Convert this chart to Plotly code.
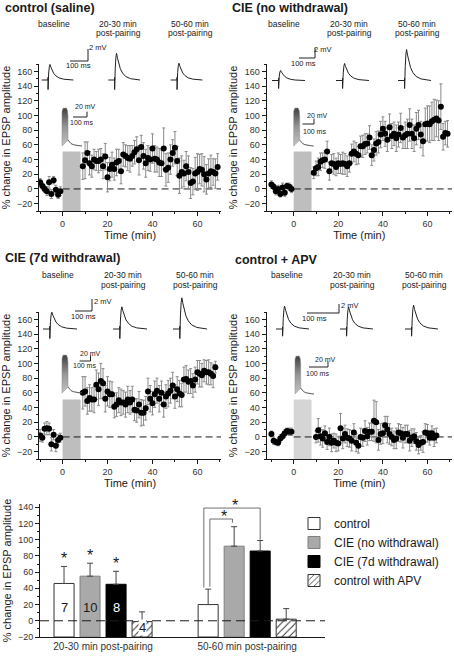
import numpy as np
import plotly.graph_objects as go

# ====================== DATA ======================
PANEL_TITLES = ["control (saline)", "CIE (no withdrawal)", "CIE (7d withdrawal)", "control + APV"]
SNAP_LINE1 = ["baseline", "20-30 min", "50-60 min"]
SNAP_LINE2 = ["", "post-pairing", "post-pairing"]

BASELINE_T0 = -10  # min, first baseline sample

# --- control (saline) ---
SAL_BASE = [9, 4, 0, -3, 9, -7, 12, -1, -8, -3]
SAL_BASE_SEM = [5, 4, 5, 6, 8, 6, 5, 6, 5, 6]
SAL_POST_T0 = 9
SAL_POST = [31, 39, 49, 35, 31, 40, 38, 38, 40, 31,
            44, 16, 27, 33, 27, 36, 38, 24, 47, 45,
            42, 41, 45, 50, 54, 39, 57, 45, 35, 42,
            40, 55, 41, 40, 36, 35, 55, 26, 29, 40,
            49, 56, 38, 18, 23, 21, 31, 23, 8, 10,
            21, 23, 27, 26, 20, 13, 21, 24, 23, 21,
            30]
SAL_POST_SEM = [18, 25, 15, 16, 15, 14, 13, 16, 15, 17,
                18, 20, 16, 17, 15, 18, 16, 17, 16, 15,
                17, 18, 14, 16, 17, 20, 16, 18, 19, 17,
                16, 20, 18, 17, 19, 18, 28, 22, 20, 20,
                18, 22, 20, 24, 22, 18, 20, 22, 21, 18,
                22, 25, 20, 22, 24, 20, 20, 22, 18, 20,
                18]

# --- CIE (no withdrawal) ---
CIE_BASE = [6, 3, -3, 0, -7, 2, -5, 4, 3, 0]
CIE_BASE_SEM = [5, 4, 5, 5, 4, 6, 5, 4, 5, 5]
CIE_POST_T0 = 9
CIE_POST = [22, 28, 30, 37, 39, 40, 51, 24, 35, 34,
            30, 35, 34, 35, 34, 31, 35, 48, 51, 48,
            46, 58, 58, 61, 62, 70, 46, 53, 62, 64,
            74, 82, 75, 67, 84, 72, 75, 69, 74, 83,
            70, 73, 75, 87, 75, 69, 82, 87, 74, 65,
            88, 89, 88, 92, 94, 96, 93, 112, 71, 76,
            75]
CIE_POST_SEM = [8, 10, 12, 12, 10, 12, 14, 12, 12, 14,
                12, 14, 13, 15, 14, 14, 12, 13, 14, 15,
                12, 14, 15, 14, 13, 16, 14, 15, 16, 15,
                18, 16, 17, 16, 18, 17, 16, 18, 17, 20,
                15, 18, 20, 22, 20, 18, 22, 20, 18, 20,
                22, 24, 25, 26, 28, 25, 27, 31, 18, 16,
                18]

# --- CIE (7d withdrawal) ---
W7D_BASE = [2, -1, 11, 12, 11, -10, 3, -12, -4, -1]
W7D_BASE_SEM = [8, 6, 8, 9, 8, 9, 7, 8, 7, 6]
W7D_POST_T0 = 9
W7D_POST = [60, 62, 49, 53, 51, 51, 71, 65, 76, 73,
            52, 62, 58, 58, 41, 44, 50, 47, 47, 44,
            51, 47, 51, 37, 36, 44, 33, 33, 39, 62,
            52, 46, 58, 63, 52, 60, 44, 55, 59, 63,
            70, 55, 65, 59, 57, 78, 79, 75, 76, 70,
            78, 88, 86, 84, 90, 88, 88, 86, 83, 95]
W7D_POST_SEM = [22, 20, 18, 18, 16, 18, 20, 22, 24, 20,
                18, 20, 18, 17, 15, 16, 17, 18, 16, 17,
                18, 16, 18, 15, 16, 18, 18, 17, 16, 18,
                18, 16, 18, 17, 18, 16, 17, 16, 18, 17,
                18, 16, 17, 18, 16, 17, 18, 16, 17, 16,
                17, 16, 18, 16, 15, 16, 17, 15, 16, 8]

# --- control + APV ---
APV_BASE = [4, -5, -7, -8, -2, 1, 5, 8, 7, 7]
APV_BASE_SEM = [4, 5, 4, 4, 5, 4, 5, 4, 5, 5]
APV_POST_T0 = 10
APV_POST = [0, 9, 1, -2, 5, -7, 0, -8, -5, -8,
            -9, 12, -2, 4, -1, -2, -5, 6, -8, -12,
            0, -1, 8, 1, 7, 7, 22, 20, -4, 4,
            5, 16, 10, 4, 0, -4, -2, 6, 5, -1,
            4, 4, -5, -1, 1, -6, -11, -8, -7, 6,
            5, -1, 5, -1, 2]
APV_POST_SEM = [8, 16, 12, 12, 10, 10, 12, 12, 10, 12,
                10, 20, 14, 12, 12, 12, 14, 12, 12, 10,
                12, 12, 14, 12, 12, 12, 28, 28, 14, 14,
                14, 12, 18, 14, 12, 12, 14, 12, 12, 14,
                12, 12, 14, 12, 10, 12, 12, 10, 14, 12,
                12, 10, 10, 12, 10]

COURSES = [
    (SAL_BASE, SAL_BASE_SEM, SAL_POST_T0, SAL_POST, SAL_POST_SEM),
    (CIE_BASE, CIE_BASE_SEM, CIE_POST_T0, CIE_POST, CIE_POST_SEM),
    (W7D_BASE, W7D_BASE_SEM, W7D_POST_T0, W7D_POST, W7D_POST_SEM),
    (APV_BASE, APV_BASE_SEM, APV_POST_T0, APV_POST, APV_POST_SEM),
]

# pairing period (min) and height of the grey marker bar (%)
PAIRING_START, PAIRING_END, PAIRING_TOP = 0, 8, 51

# example EPSP sweeps (shape, normalised to peak)
EPSP_FRAC = [0.205, 0.22, 0.24, 0.26, 0.29, 0.33, 0.38, 0.45, 0.55, 0.70, 0.85, 1.0]
EPSP_NORM = [0.0, 0.45, 0.85, 1.0, 0.82, 0.60, 0.42, 0.26, 0.13, 0.05, 0.02, 0.0]
ARTIFACT_FRAC = 0.2
ARTIFACT_MV = [0.45, -1.6]
TRACE_AMP_MV = [[2.6, 4.45, 2.8], [2.0, 3.4, 6.2], [2.8, 3.7, 5.2], [5.1, 4.9, 5.3]]
TRACE_SWEEP_MS = [176, 206, 200, 103]
SCALE_MS, SCALE_MV = 100, 2

# pairing response inset (burst + after-depolarisation)
BURST_FRAC = [0.0, 0.0, 0.05, 0.22, 0.28, 0.30, 0.30, 0.0]
BURST_MV = [0, 128, 140, 141, 130, 110, 22, 0]
TAIL_FRAC = [0.30, 0.36, 0.45, 0.56, 0.70, 0.85, 1.0]
TAIL_MV = [22, 15, 9, 5, 2.5, 1, 0]
INSET_SWEEP_MS = [143, 174, 182, 100]
INSET_SCALE_MS, INSET_SCALE_MV = 100, 20

# summary bar chart
GROUPS = ["20-30 min post-pairing", "50-60 min post-pairing"]
CONDITIONS = ["control", "CIE (no withdrawal)", "CIE (7d withdrawal)", "control with APV"]
MEAN_2030 = [46, 55, 45, -1]
SEM_2030 = [21, 16, 16, 12]
MEAN_5060 = [20, 92, 86, 2]
SEM_5060 = [19, 24, 13, 13]
N_CELLS = [7, 10, 8, 4]
SIG_2030 = [True, True, True, False]

# ====================== STYLE / LAYOUT ======================
W, H = 454, 656
FONT = "Liberation Sans, Arial, Helvetica, sans-serif"
INK = "#1a1a1a"
TICK_C = "#333333"


def fx(px):
    return px / W


def fy(py):
    return 1 - py / H


def axkey(kind, n):
    return kind if n == 1 else f"{kind}{n}"


def axref(letter, n):
    return letter if n == 1 else f"{letter}{n}"


PANEL_X0 = [0, 227, 0, 227]
MAIN_BOX = [(39, 221, 64, 211), (266.5, 452, 64, 211), (39, 221, 312, 459), (266.5, 452, 312, 459)]
MAIN_XRANGE = [[-10.5, 70.5], [-12.2, 71], [-10.5, 70.5], [-12.2, 71]]
Y_RANGE = [-30, 170]
PAIR_FILL = ["#bebebe", "#bebebe", "#bebebe", "#d5d5d5"]
TITLE_POS = [(3, 8), (230, 8), (3, 258), (233, 260)]
SNAP_POS = [[(54, 24), (118, 24), (190, 24)],
            [(284, 24), (349, 24), (417, 24)],
            [(58, 275), (123, 275), (195, 275)],
            [(287, 275), (352, 275), (424, 275)]]
STRIP = [
    dict(ppms=0.18, ppmv=6.0, base=80, starts=[41.7, 108.3, 170.7], corner=(88, 61), mv_lab=(98, 48), ms_lab=(78, 66)),
    dict(ppms=0.16, ppmv=5.0, base=80.5, starts=[272, 336, 398], corner=(315, 58), mv_lab=(323, 49), ms_lab=(303, 64)),
    dict(ppms=0.17, ppmv=6.0, base=329, starts=[43, 113, 173], corner=(92, 311), mv_lab=(103, 301), ms_lab=(83, 317)),
    dict(ppms=0.32, ppmv=4.5, base=329, starts=[276, 340, 405], corner=(339, 313), mv_lab=(350, 305), ms_lab=(314, 318)),
]
INSET = [
    dict(ppms=0.14, left=62, base=146, corner=(87, 117), mv_lab=(85, 107), ms_lab=(81.5, 122)),
    dict(ppms=0.115, left=293.7, base=146, corner=(314, 124), mv_lab=(317, 115), ms_lab=(314, 131)),
    dict(ppms=0.11, left=62, base=393, corner=(90.5, 361), mv_lab=(90, 353), ms_lab=(84, 365)),
    dict(ppms=0.19, left=295, base=394, corner=(328, 367), mv_lab=(325, 359), ms_lab=(317, 373)),
]
INSET_PPMV = 0.27

BAR_BASE = -20
BAR_BOX = (40, 325, 504, 637)
BAR_XRANGE = [-0.4375, 1.54]
BAR_YRANGE = [-20, 144]
BARGAP, BARGROUPGAP = 0.278, 0.23
BAR_FILL = ["#ffffff", "#a9a9a9", "#000000", "#ffffff"]
BAR_EDGE = ["#333333", "#808080", "#000000", "#333333"]

fig = go.Figure()
layout = dict(template="none", width=W, height=H, margin=dict(l=0, r=0, t=0, b=0, pad=0, autoexpand=False),
              paper_bgcolor="white", plot_bgcolor="rgba(0,0,0,0)",
              font=dict(family=FONT, size=10, color=INK),
              barmode="group", bargap=BARGAP, bargroupgap=BARGROUPGAP)
annotations, shapes = [], []

axis_common = dict(showline=True, linecolor=INK, linewidth=1, ticks="outside", ticklen=4,
                   tickcolor=INK, tickwidth=1, showgrid=False, zeroline=False, automargin=False,
                   tickfont=dict(size=9, color=TICK_C), fixedrange=True)


def text(px, py, s, size, xanchor="center", bold=False, color=INK, **kw):
    annotations.append(dict(x=fx(px), y=fy(py), xref="paper", yref="paper", text=f"<b>{s}</b>" if bold else s,
                            showarrow=False, xanchor=xanchor, yanchor="middle",
                            font=dict(size=size, color=color, family=FONT), **kw))


def hidden_axis(domain, rng, anchor):
    return dict(domain=domain, range=rng, visible=False, fixedrange=True, anchor=anchor, automargin=False)


# ---------------- time-course panels ----------------
for i in range(4):
    n = i + 1
    x0, x1, yt, yb = MAIN_BOX[i]
    layout[axkey("xaxis", n)] = dict(axis_common, domain=[fx(x0), fx(x1)], range=MAIN_XRANGE[i],
                                     anchor=axref("y", n), tick0=0, dtick=20,
                                     minor=dict(dtick=10, tick0=0, ticks="outside", ticklen=2, tickcolor=INK),
                                     title=dict(text="Time (min)", font=dict(size=11, color=INK), standoff=2))
    layout[axkey("yaxis", n)] = dict(axis_common, domain=[fy(yb), fy(yt)], range=Y_RANGE,
                                     anchor=axref("x", n), tick0=0, dtick=20,
                                     minor=dict(dtick=10, tick0=0, ticks="outside", ticklen=2, tickcolor=INK),
                                     title=dict(text="% change in EPSP amplitude", font=dict(size=11, color=INK), standoff=4))
    xr, yr = axref("x", n), axref("y", n)
    shapes.append(dict(type="rect", xref=xr, yref=yr, x0=PAIRING_START, x1=PAIRING_END,
                       y0=Y_RANGE[0], y1=PAIRING_TOP, fillcolor=PAIR_FILL[i], line=dict(width=0), layer="below"))
    shapes.append(dict(type="line", xref=xr, yref=yr, x0=PAIRING_START, x1=MAIN_XRANGE[i][1], y0=0, y1=0,
                       line=dict(color=INK, width=1, dash="7px,4px"), layer="below"))

    base, base_sem, t0, post, post_sem = COURSES[i]
    t = list(BASELINE_T0 + np.arange(len(base))) + list(t0 + np.arange(len(post)))
    v = list(base) + list(post)
    e = list(base_sem) + list(post_sem)
    fig.add_trace(go.Scatter(x=t, y=v, mode="markers", xaxis=xr, yaxis=yr, showlegend=False,
                             marker=dict(size=6, color="black"),
                             error_y=dict(type="data", array=e, color="#8a8a8a", thickness=1, width=1.5),
                             hoverinfo="skip"))

    # titles
    tx, ty = TITLE_POS[i]
    text(tx, ty, PANEL_TITLES[i], 12.5, xanchor="left", bold=True)
    for k in range(3):
        sx, sy = SNAP_POS[i][k]
        text(sx, sy, SNAP_LINE1[k], 8.5)
        if SNAP_LINE2[k]:
            text(sx, sy + 9.5, SNAP_LINE2[k], 8.5)

    # example EPSP sweeps strip
    s = STRIP[i]
    ns = 6 + i
    sxr, syr = axref("x", ns), axref("y", ns)
    px0 = PANEL_X0[i]
    layout[axkey("xaxis", ns)] = hidden_axis([fx(px0), fx(px0 + 227)], [0, 227 / s["ppms"]], syr)
    layout[axkey("yaxis", ns)] = hidden_axis([fy(s["base"] + 14), fy(s["base"] - 48)],
                                             [-14 / s["ppmv"], 48 / s["ppmv"]], sxr)
    sweep = TRACE_SWEEP_MS[i]
    for k in range(3):
        off = (s["starts"][k] - px0) / s["ppms"]
        amp = TRACE_AMP_MV[i][k]
        xs = [0.0, ARTIFACT_FRAC, ARTIFACT_FRAC, ARTIFACT_FRAC] + EPSP_FRAC
        ys = [0.0, 0.0, ARTIFACT_MV[0], ARTIFACT_MV[1]] + [amp * q for q in EPSP_NORM]
        fig.add_trace(go.Scatter(x=[off + f * sweep for f in xs], y=ys, mode="lines", xaxis=sxr, yaxis=syr,
                                 line=dict(color="#222222", width=1), showlegend=False, hoverinfo="skip"))
    cms = (s["corner"][0] - px0) / s["ppms"]
    cmv = (s["base"] - s["corner"][1]) / s["ppmv"]
    fig.add_trace(go.Scatter(x=[cms - SCALE_MS, cms, cms], y=[cmv, cmv, cmv + SCALE_MV], mode="lines",
                             xaxis=sxr, yaxis=syr, line=dict(color="#222222", width=1),
                             showlegend=False, hoverinfo="skip"))
    text(*s["mv_lab"], f"{SCALE_MV} mV", 7.5)
    text(*s["ms_lab"], f"{SCALE_MS} ms", 7.5)

    # pairing response inset
    q = INSET[i]
    ni = 10 + i
    ixr, iyr = axref("x", ni), axref("y", ni)
    layout[axkey("xaxis", ni)] = hidden_axis([fx(q["left"] - 4), fx(q["left"] + 50)],
                                             [-4 / q["ppms"], 50 / q["ppms"]], iyr)
    layout[axkey("yaxis", ni)] = hidden_axis([fy(q["base"] + 5), fy(q["base"] - 48)],
                                             [-5 / INSET_PPMV, 48 / INSET_PPMV], ixr)
    isw = INSET_SWEEP_MS[i]
    fig.add_trace(go.Scatter(x=[f * isw for f in BURST_FRAC], y=BURST_MV, mode="lines", fill="toself",
                             fillgradient=dict(type="vertical",
                                               colorscale=[[0, "#c4c4c4"], [0.5, "#969696"], [1, "#3e3e3e"]]),
                             line=dict(color="#8a8a8a", width=0.5), xaxis=ixr, yaxis=iyr,
                             showlegend=False, hoverinfo="skip"))
    fig.add_trace(go.Scatter(x=[f * isw for f in TAIL_FRAC], y=TAIL_MV, mode="lines",
                             line=dict(color="#555555", width=1), xaxis=ixr, yaxis=iyr,
                             showlegend=False, hoverinfo="skip"))
    ims = (q["corner"][0] - q["left"]) / q["ppms"]
    imv = (q["base"] - q["corner"][1]) / INSET_PPMV
    fig.add_trace(go.Scatter(x=[ims - INSET_SCALE_MS, ims, ims], y=[imv, imv, imv + INSET_SCALE_MV],
                             mode="lines", line=dict(color="#222222", width=1), xaxis=ixr, yaxis=iyr,
                             showlegend=False, hoverinfo="skip"))
    text(*q["mv_lab"], f"{INSET_SCALE_MV} mV", 7)
    text(*q["ms_lab"], f"{INSET_SCALE_MS} ms", 7)

# ---------------- summary bar chart ----------------
bx0, bx1, byt, byb = BAR_BOX
layout["xaxis5"] = dict(axis_common, domain=[fx(bx0), fx(bx1)], range=BAR_XRANGE, anchor="y5",
                        tickmode="array", tickvals=[0, 1], ticktext=GROUPS, ticks="", ticklen=0,
                        tickfont=dict(size=10, color=TICK_C))
layout["yaxis5"] = dict(axis_common, domain=[fy(byb), fy(byt)], range=BAR_YRANGE, anchor="x5",
                        tick0=0, dtick=20,
                        minor=dict(dtick=10, tick0=0, ticks="outside", ticklen=2, tickcolor=INK),
                        title=dict(text="% change in EPSP amplitude", font=dict(size=11, color=INK), standoff=4))

for k, cond in enumerate(CONDITIONS):
    means = [MEAN_2030[k], MEAN_5060[k]]
    sems = [SEM_2030[k], SEM_5060[k]]
    marker = dict(color=BAR_FILL[k], line=dict(color=BAR_EDGE[k], width=1))
    if k == 3:
        marker["pattern"] = dict(shape="/", fgcolor="#333333", bgcolor="white", size=5, solidity=0.2)
    fig.add_trace(go.Bar(x=[0, 1], y=[m - BAR_BASE for m in means], base=BAR_BASE, name=cond,
                         xaxis="x5", yaxis="y5", marker=marker,
                         error_y=dict(type="data", symmetric=False, array=sems, arrayminus=[0, 0],
                                      color="#444444", thickness=1, width=3),
                         hoverinfo="skip"))

shapes.append(dict(type="line", xref="x5 domain", yref="y5", x0=0, x1=1, y0=0, y1=0,
                   line=dict(color=INK, width=1, dash="9px,5px"), layer="above"))

slot = (1 - BARGAP) / len(CONDITIONS)


def bar_x(group, k):
    return group + (k - (len(CONDITIONS) - 1) / 2) * slot


for k in range(len(CONDITIONS)):
    annotations.append(dict(x=bar_x(0, k), y=16 if k < 3 else -8, xref="x5", yref="y5",
                            text=str(N_CELLS[k]), showarrow=False, yanchor="middle",
                            font=dict(size=13, color="white" if k == 2 else INK, family=FONT),
                            bgcolor="white" if k == 3 else None, borderpad=0))
    if SIG_2030[k]:
        annotations.append(dict(x=bar_x(0, k), y=MEAN_2030[k] + SEM_2030[k] + 10, xref="x5", yref="y5",
                                text="*", showarrow=False, yanchor="middle",
                                font=dict(size=16, color=INK, family=FONT)))

# significance brackets at 50-60 min (control vs CIE groups)
ctrl_top = MEAN_5060[0] + SEM_5060[0]
br_col = "#6f6f6f"
outer = dict(x0=bar_x(1, 0) - 0.03, x1=bar_x(1, 2), ylo0=ctrl_top + 2, ytop=139,
             ylo1=MEAN_5060[2] + SEM_5060[2] + 1)
inner = dict(x0=bar_x(1, 0) + 0.012, x1=bar_x(1, 1) - 0.012, ylo0=ctrl_top + 3, ytop=125.5,
             ylo1=121)
for b in (outer, inner):
    fig.add_trace(go.Scatter(x=[b["x0"], b["x0"], b["x1"], b["x1"]],
                             y=[b["ylo0"], b["ytop"], b["ytop"], b["ylo1"]], mode="lines",
                             line=dict(color=br_col, width=1), xaxis="x5", yaxis="y5",
                             showlegend=False, hoverinfo="skip", cliponaxis=False))
    annotations.append(dict(x=(b["x0"] + b["x1"]) / 2 + 0.02, y=b["ytop"] + 3, xref="x5", yref="y5",
                            text="*", showarrow=False, yanchor="middle",
                            font=dict(size=16, color=INK, family=FONT)))

layout["legend"] = dict(x=fx(294), y=fy(509), xanchor="left", yanchor="top", bgcolor="rgba(0,0,0,0)",
                        font=dict(size=12, color=INK, family=FONT), itemwidth=30, tracegroupgap=0,
                        traceorder="normal", borderwidth=0)
layout["showlegend"] = True
layout["annotations"] = annotations
layout["shapes"] = shapes
fig.update_layout(**layout)
fig.write_html("out.html", config={"displayModeBar": False, "staticPlot": True},
               post_script="document.body.style.margin='0px';document.body.style.overflow='hidden';")
